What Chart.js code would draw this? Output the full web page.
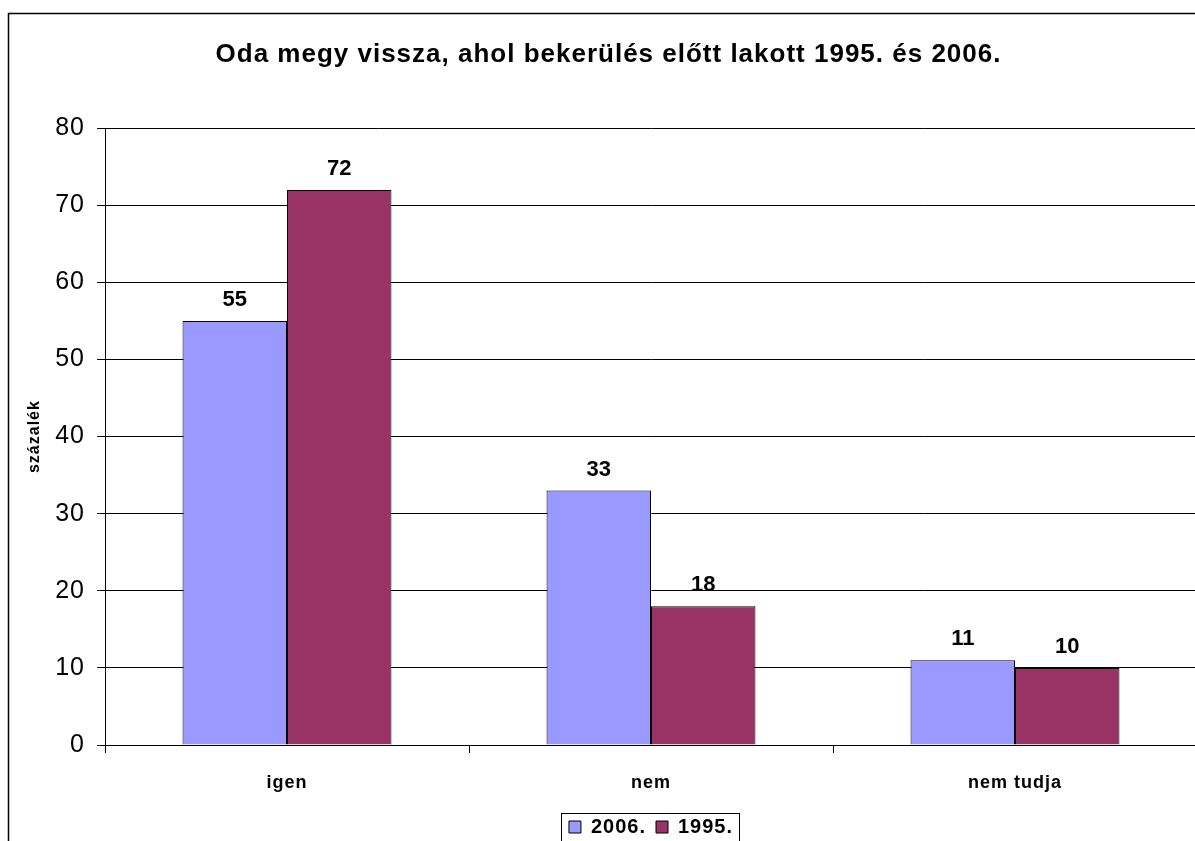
<!DOCTYPE html>
<html>
<head>
<meta charset="utf-8">
<script src="https://cdn.jsdelivr.net/npm/chart.js@4/dist/chart.umd.min.js"></script>
<style>
  html, body { margin: 0; padding: 0; background: #fff; overflow: hidden; }
  #wrap { width: 1200px; height: 847px; }
</style>
</head>
<body>
<div id="wrap"><canvas id="chart" width="1200" height="847"></canvas></div>
<script>
'use strict';

const categories = ['igen', 'nem', 'nem tudja'];
const values2006 = [55, 33, 11];
const values1995 = [72, 18, 10];
const seriesNames = ['2006.', '1995.'];
const yTicks = { min: 0, max: 80, step: 10 };

const FONT = '"Liberation Sans", Arial, sans-serif';

// the original (an Excel export) has slightly spaced letters
const spacing = {
  id: 'spacing',
  beforeLayout(chart) { chart.ctx.letterSpacing = '1px'; },
  beforeDraw(chart) { chart.ctx.letterSpacing = '1px'; }
};

// outer frame of the chart object, open to the right and bottom like the cropped original
const framePlugin = {
  id: 'frame',
  beforeDraw(chart) {
    const ctx = chart.ctx;
    ctx.save();
    ctx.fillStyle = '#fff';
    ctx.fillRect(0, 0, chart.width, chart.height);
    ctx.strokeStyle = '#000';
    ctx.lineWidth = 1.5;
    ctx.strokeRect(8.5, 13.5, 3000, 3000);
    ctx.restore();
  }
};

// value labels above bars
const valueLabels = {
  id: 'valueLabels',
  afterDatasetsDraw(chart) {
    const ctx = chart.ctx;
    ctx.save();
    ctx.letterSpacing = '0px';
    ctx.font = 'bold 22px ' + FONT;
    ctx.fillStyle = '#000';
    ctx.textAlign = 'center';
    ctx.textBaseline = 'alphabetic';
    chart.data.datasets.forEach((ds, i) => {
      chart.getDatasetMeta(i).data.forEach((bar, j) => {
        ctx.fillText(ds.data[j], bar.x, bar.y - 15);
      });
    });
    ctx.restore();
  }
};

// border around the legend
const legendFrame = {
  id: 'legendFrame',
  afterDraw(chart) {
    const boxes = chart.legend && chart.legend.legendHitBoxes;
    if (!boxes || !boxes.length) return;
    const left = Math.min(...boxes.map(b => b.left)) - 8;
    const right = Math.max(...boxes.map(b => b.left + b.width)) + 6;
    const top = Math.min(...boxes.map(b => b.top)) - 4;
    const bottom = Math.max(...boxes.map(b => b.top + b.height)) + 4;
    const ctx = chart.ctx;
    ctx.save();
    ctx.strokeStyle = '#000';
    ctx.lineWidth = 1;
    ctx.strokeRect(Math.round(left) + 0.5, Math.round(top) + 0.5, Math.round(right - left), Math.round(bottom - top));
    ctx.restore();
  }
};

new Chart(document.getElementById('chart'), {
  type: 'bar',
  data: {
    labels: categories,
    datasets: [
      { label: seriesNames[0], data: values2006, backgroundColor: '#9999ff', borderColor: '#000', borderWidth: 1 },
      { label: seriesNames[1], data: values1995, backgroundColor: '#993366', borderColor: '#000', borderWidth: 1 }
    ]
  },
  options: {
    responsive: false, animation: false,
    categoryPercentage: 0.574, barPercentage: 1,
    layout: { padding: { left: 20, right: 3, top: 13, bottom: 0 } },
    plugins: {
      title: {
        display: true,
        text: 'Oda megy vissza, ahol bekerülés előtt lakott 1995. és 2006.',
        color: '#000',
        font: { family: FONT, size: 26, weight: 'bold' },
        padding: { top: 26, bottom: 58 }
      },
      legend: {
        position: 'bottom', fullSize: false,
        labels: {
          color: '#000', boxWidth: 12, boxHeight: 12, padding: 10,
          font: { family: FONT, size: 20, weight: 'bold' }
        }
      },
      tooltip: { enabled: false }
    },
    scales: {
      x: {
        grid: { display: true, drawOnChartArea: false, color: '#000', tickLength: 8, offset: true },
        border: { color: '#000' },
        ticks: { color: '#000', padding: 19, font: { family: FONT, size: 18, weight: 'bold' } },
        afterFit(scale) { scale.height = 62; }
      },
      y: {
        min: yTicks.min, max: yTicks.max,
        grid: { color: '#000', tickLength: 8 },
        border: { color: '#000' },
        ticks: { stepSize: yTicks.step, color: '#000', padding: 12, font: { family: FONT, size: 25 } },
        title: {
          display: true, text: 'százalék', color: '#000',
          font: { family: FONT, size: 16, weight: 'bold' },
          padding: { top: 5, bottom: 0 }
        },
        afterFit(scale) { scale.width = 85; }
      }
    }
  },
  plugins: [spacing, framePlugin, valueLabels, legendFrame]
});
</script>
</body>
</html>
